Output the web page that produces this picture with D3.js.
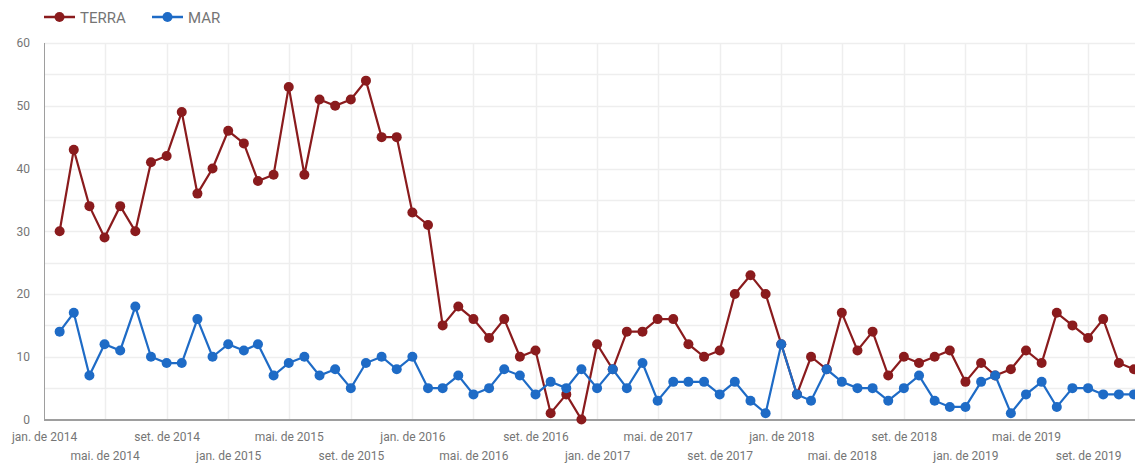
<!DOCTYPE html>
<html>
<head>
<meta charset="utf-8">
<script src="https://cdn.jsdelivr.net/npm/d3@7"></script>
<style>
  body { margin: 0; background: #fff; }
  #my_dataviz text { font-family: Roboto, "Noto Sans", sans-serif; }
</style>
</head>
<body>
<div id="my_dataviz"></div>
<script>
// series values, one per month (fev. 2014 .. dez. 2019)
var terra = [30,43,34,29,34,30,41,42,49,36,40,46,44,38,39,53,39,51,50,51,54,45,45,33,31,
             15,18,16,13,16,10,11,1,4,0,12,8,14,14,16,16,12,10,11,20,23,20,12,4,10,8,
             17,11,14,7,10,9,10,11,6,9,7,8,11,9,17,15,13,16,9,8];
var mar   = [14,17,7,12,11,18,10,9,9,16,10,12,11,12,7,9,10,7,8,5,9,10,8,10,5,
             5,7,4,5,8,7,4,6,5,8,5,8,5,9,3,6,6,6,4,6,3,1,12,4,3,8,
             6,5,5,3,5,7,3,2,2,6,7,1,4,6,2,5,5,4,4,4];
var seriesNames = ["TERRA", "MAR"];
var seriesColors = ["#8a1b1d", "#1e6bc6"];
var monthAbbr = ["jan.","fev.","mar.","abr.","mai.","jun.","jul.","ago.","set.","out.","nov.","dez."];
var yTicks = [0, 10, 20, 30, 40, 50, 60];
var yGrid = [5, 10, 15, 20, 25, 30, 35, 40, 45, 50, 55, 60];

var months = d3.timeMonth.range(new Date(2014, 1, 1), new Date(2020, 0, 1));

var margin = {top: 43, right: 1, bottom: 43, left: 44},
  width = 1135 - margin.left - margin.right,
  height = 463 - margin.top - margin.bottom;

var svg = d3.select("#my_dataviz")
.append("svg")
  .attr("width", width + margin.left + margin.right)
  .attr("height", height + margin.top + margin.bottom)
.append("g")
  .attr("transform", "translate(" + margin.left + "," + margin.top + ")");

var x = d3.scaleTime()
  .domain([new Date(2014, 0, 1), new Date(2019, 11, 1)])
  .range([0, 1090]);

var y = d3.scaleLinear()
  .domain([0, 60])
  .range([height - 0.5, 0]);

var xTickVals = d3.timeMonth.every(4).range(new Date(2014, 0, 1), new Date(2020, 0, 1));

// grid
svg.append("g").selectAll("line.hg")
  .data(yGrid).enter().append("line")
    .attr("x1", 0).attr("x2", width + 10)
    .attr("y1", function(d){ return Math.round(y(d)) + 0.5 })
    .attr("y2", function(d){ return Math.round(y(d)) + 0.5 })
    .style("stroke", "#eeeeee").style("stroke-width", 1.5);

svg.append("g").selectAll("line.vg")
  .data(xTickVals.slice(1)).enter().append("line")
    .attr("x1", function(d){ return Math.round(x(d)) + 0.5 })
    .attr("x2", function(d){ return Math.round(x(d)) + 0.5 })
    .attr("y1", 0).attr("y2", height)
    .style("stroke", "#eeeeee").style("stroke-width", 1.5);

// y axis
var yAxis = svg.append("g")
  .call(d3.axisLeft(y).tickValues(yTicks).tickSize(0).tickPadding(14));
yAxis.select(".domain").remove();
yAxis.selectAll("text").attr("font-size", 12).attr("fill", "#757575");
svg.append("line")
  .attr("x1", 0.5).attr("x2", 0.5).attr("y1", 0).attr("y2", height)
  .style("stroke", "#9e9e9e").style("stroke-width", 1);

// x axis
var xAxis = svg.append("g")
  .attr("transform", "translate(0," + height + ")")
  .call(d3.axisBottom(x).tickValues(xTickVals).tickSize(0).tickPadding(12)
    .tickFormat(function(d){ return monthAbbr[d.getMonth()] + " de " + d.getFullYear() }));
xAxis.select(".domain").remove();
xAxis.selectAll("text")
  .attr("font-size", 12).attr("fill", "#757575")
  .attr("dy", function(d, i){ return i % 2 ? "2.3em" : "0.71em" });
svg.append("line")
  .attr("x1", 0).attr("x2", width + 10).attr("y1", height).attr("y2", height)
  .style("stroke", "#9e9e9e").style("stroke-width", 2);

// lines and points
var allSeries = [terra, mar];
var line = d3.line()
  .x(function(d, i){ return x(months[i]) })
  .y(function(d){ return y(d) });

allSeries.forEach(function(vals, k){
  svg.append("path")
    .datum(vals)
    .attr("d", line)
    .style("fill", "none")
    .style("stroke", seriesColors[k])
    .style("stroke-width", 2.2);
  svg.append("g").selectAll("circle")
    .data(vals).enter().append("circle")
      .attr("cx", function(d, i){ return x(months[i]) })
      .attr("cy", function(d){ return y(d) })
      .attr("r", 5)
      .style("fill", seriesColors[k]);
});

// legend
var legend = d3.select("svg").append("g");
var legendX = [44, 152];
seriesNames.forEach(function(name, k){
  var g = legend.append("g").attr("transform", "translate(" + legendX[k] + ",17)");
  g.append("line").attr("x1", 0).attr("x2", 31).attr("y1", 0).attr("y2", 0)
    .style("stroke", seriesColors[k]).style("stroke-width", 2.5);
  g.append("circle").attr("cx", 15.5).attr("cy", 0).attr("r", 5).style("fill", seriesColors[k]);
  g.append("text").text(name)
    .attr("x", 36).attr("y", 5.5)
    .attr("font-size", 15).attr("fill", "#757575");
});
</script>
</body>
</html>
